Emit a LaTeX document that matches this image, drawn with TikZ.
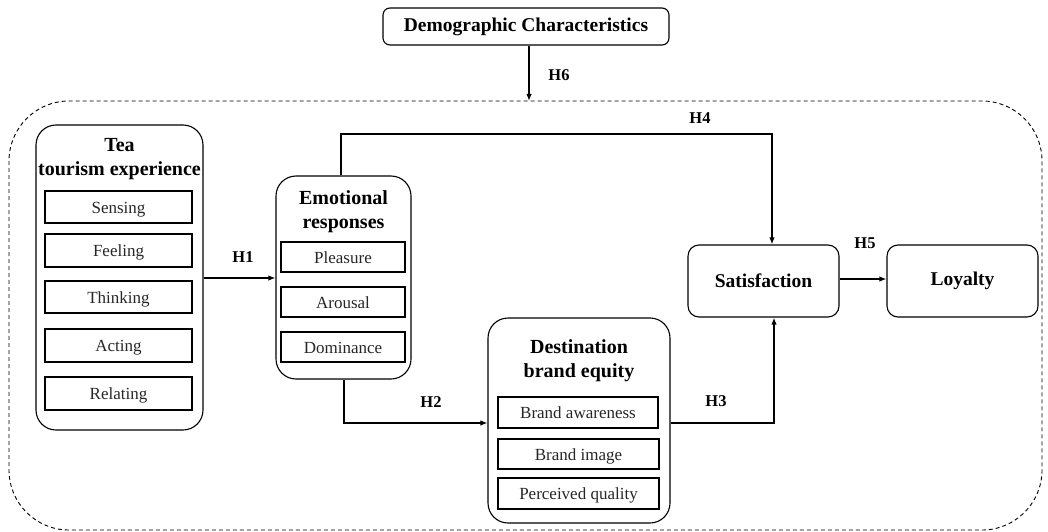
\documentclass[tikz,border=0pt]{standalone}
\usepackage{fontspec}
\setmainfont{Liberation Serif}
\usetikzlibrary{arrows.meta}
\tikzset{
  bigbox/.style={draw, line width=1.1pt, rounded corners=20pt, inner sep=0pt},
  smallbox/.style={draw, line width=1.1pt, rounded corners=11pt, inner sep=0pt, font=\bfseries\fontsize{19.5}{23}\selectfont},
  item/.style={draw, line width=1.1pt, inner sep=0pt, text=black!85, font=\fontsize{17}{20}\selectfont, text height=13pt, text depth=1pt},
  ttl/.style={font=\bfseries\fontsize{20}{24}\selectfont, inner sep=0pt},
  hlab/.style={font=\bfseries\fontsize{16.5}{19}\selectfont, inner sep=0pt},
  conn/.style={line width=1.5pt, -{Latex[length=7pt,width=5.5pt]}},
}
\newcommand{\boxat}[7]{% style, name, x1, y1, x2, y2, text
  \node[#1, minimum width={#5-#3}, minimum height={#6-#4}] (#2) at ({(#3+#5)/2},{(#4+#6)/2}) {#7};}
\begin{document}
\begin{tikzpicture}[x=1pt,y=-1pt]
\useasboundingbox (0,0) rectangle (1048,532);
% outer dashed region
\draw[line width=0.9pt, dash pattern=on 4pt off 3pt, rounded corners=60pt] (9,101) rectangle (1042,530);
\coordinate (border) at (529,101);
% demographic
\boxat{smallbox, rounded corners=7pt}{demo}{383}{8}{669}{45}{Demographic Characteristics}
% tea tourism
\boxat{bigbox}{tea}{36}{125}{203}{430}{}
\node[ttl, align=center] (teat) at (119.5,159) {Tea\\tourism experience};
\boxat{item}{sens}{45}{191}{192}{223}{Sensing}
\boxat{item}{feel}{45}{234}{192}{267}{Feeling}
\boxat{item}{think}{45}{281}{192}{313}{Thinking}
\boxat{item}{act}{45}{329}{192}{362}{Acting}
\boxat{item}{rel}{45}{377}{192}{410}{Relating}
% emotional
\boxat{bigbox}{emo}{276}{176}{411}{379}{}
\node[ttl, align=center] (emot) at (343.5,212) {Emotional\\responses};
\boxat{item}{plea}{281}{242}{405}{272}{Pleasure}
\boxat{item}{arou}{281}{287}{405}{317}{Arousal}
\boxat{item}{domi}{281}{332}{405}{362}{Dominance}
% destination
\boxat{bigbox}{dest}{488}{318}{670}{523}{}
\node[ttl, align=center] (destt) at (579,361) {Destination\\brand equity};
\boxat{item}{aware}{498}{397}{658}{428}{Brand awareness}
\boxat{item}{image}{498}{439}{659}{469}{Brand image}
\boxat{item}{qual}{498}{478}{659}{509}{Perceived quality}
% satisfaction & loyalty
\boxat{smallbox}{sat}{688}{245}{839}{317}{Satisfaction}
\boxat{smallbox}{loy}{887}{245}{1038}{317}{Loyalty}
% connectors
\draw[conn] (demo.south -| border) -- (border);
\node[hlab] (h6) at (559,75) {H6};
\draw[conn] (tea.east |- 0,278) -- (emo.west |- 0,278);
\node[hlab] (h1) at (243,257) {H1};
\coordinate (h4a) at (341,134);
\coordinate (h4b) at (772,134);
\draw[conn] (emo.north -| h4a) -- (h4a) -- (h4b) -- (sat.north -| h4b);
\node[hlab] (h4) at (700,118) {H4};
\coordinate (h2a) at (344,423);
\draw[conn] (emo.south -| h2a) -- (h2a) -- (dest.west |- h2a);
\node[hlab] (h2) at (431,402) {H2};
\coordinate (h3a) at (774,423);
\draw[conn] (dest.east |- h3a) -- (h3a) -- (sat.south -| h3a);
\node[hlab] (h3) at (716,401) {H3};
\draw[conn] (sat.east |- 0,279) -- (loy.west |- 0,279);
\node[hlab] (h5) at (865,243) {H5};
\end{tikzpicture}
\end{document}
